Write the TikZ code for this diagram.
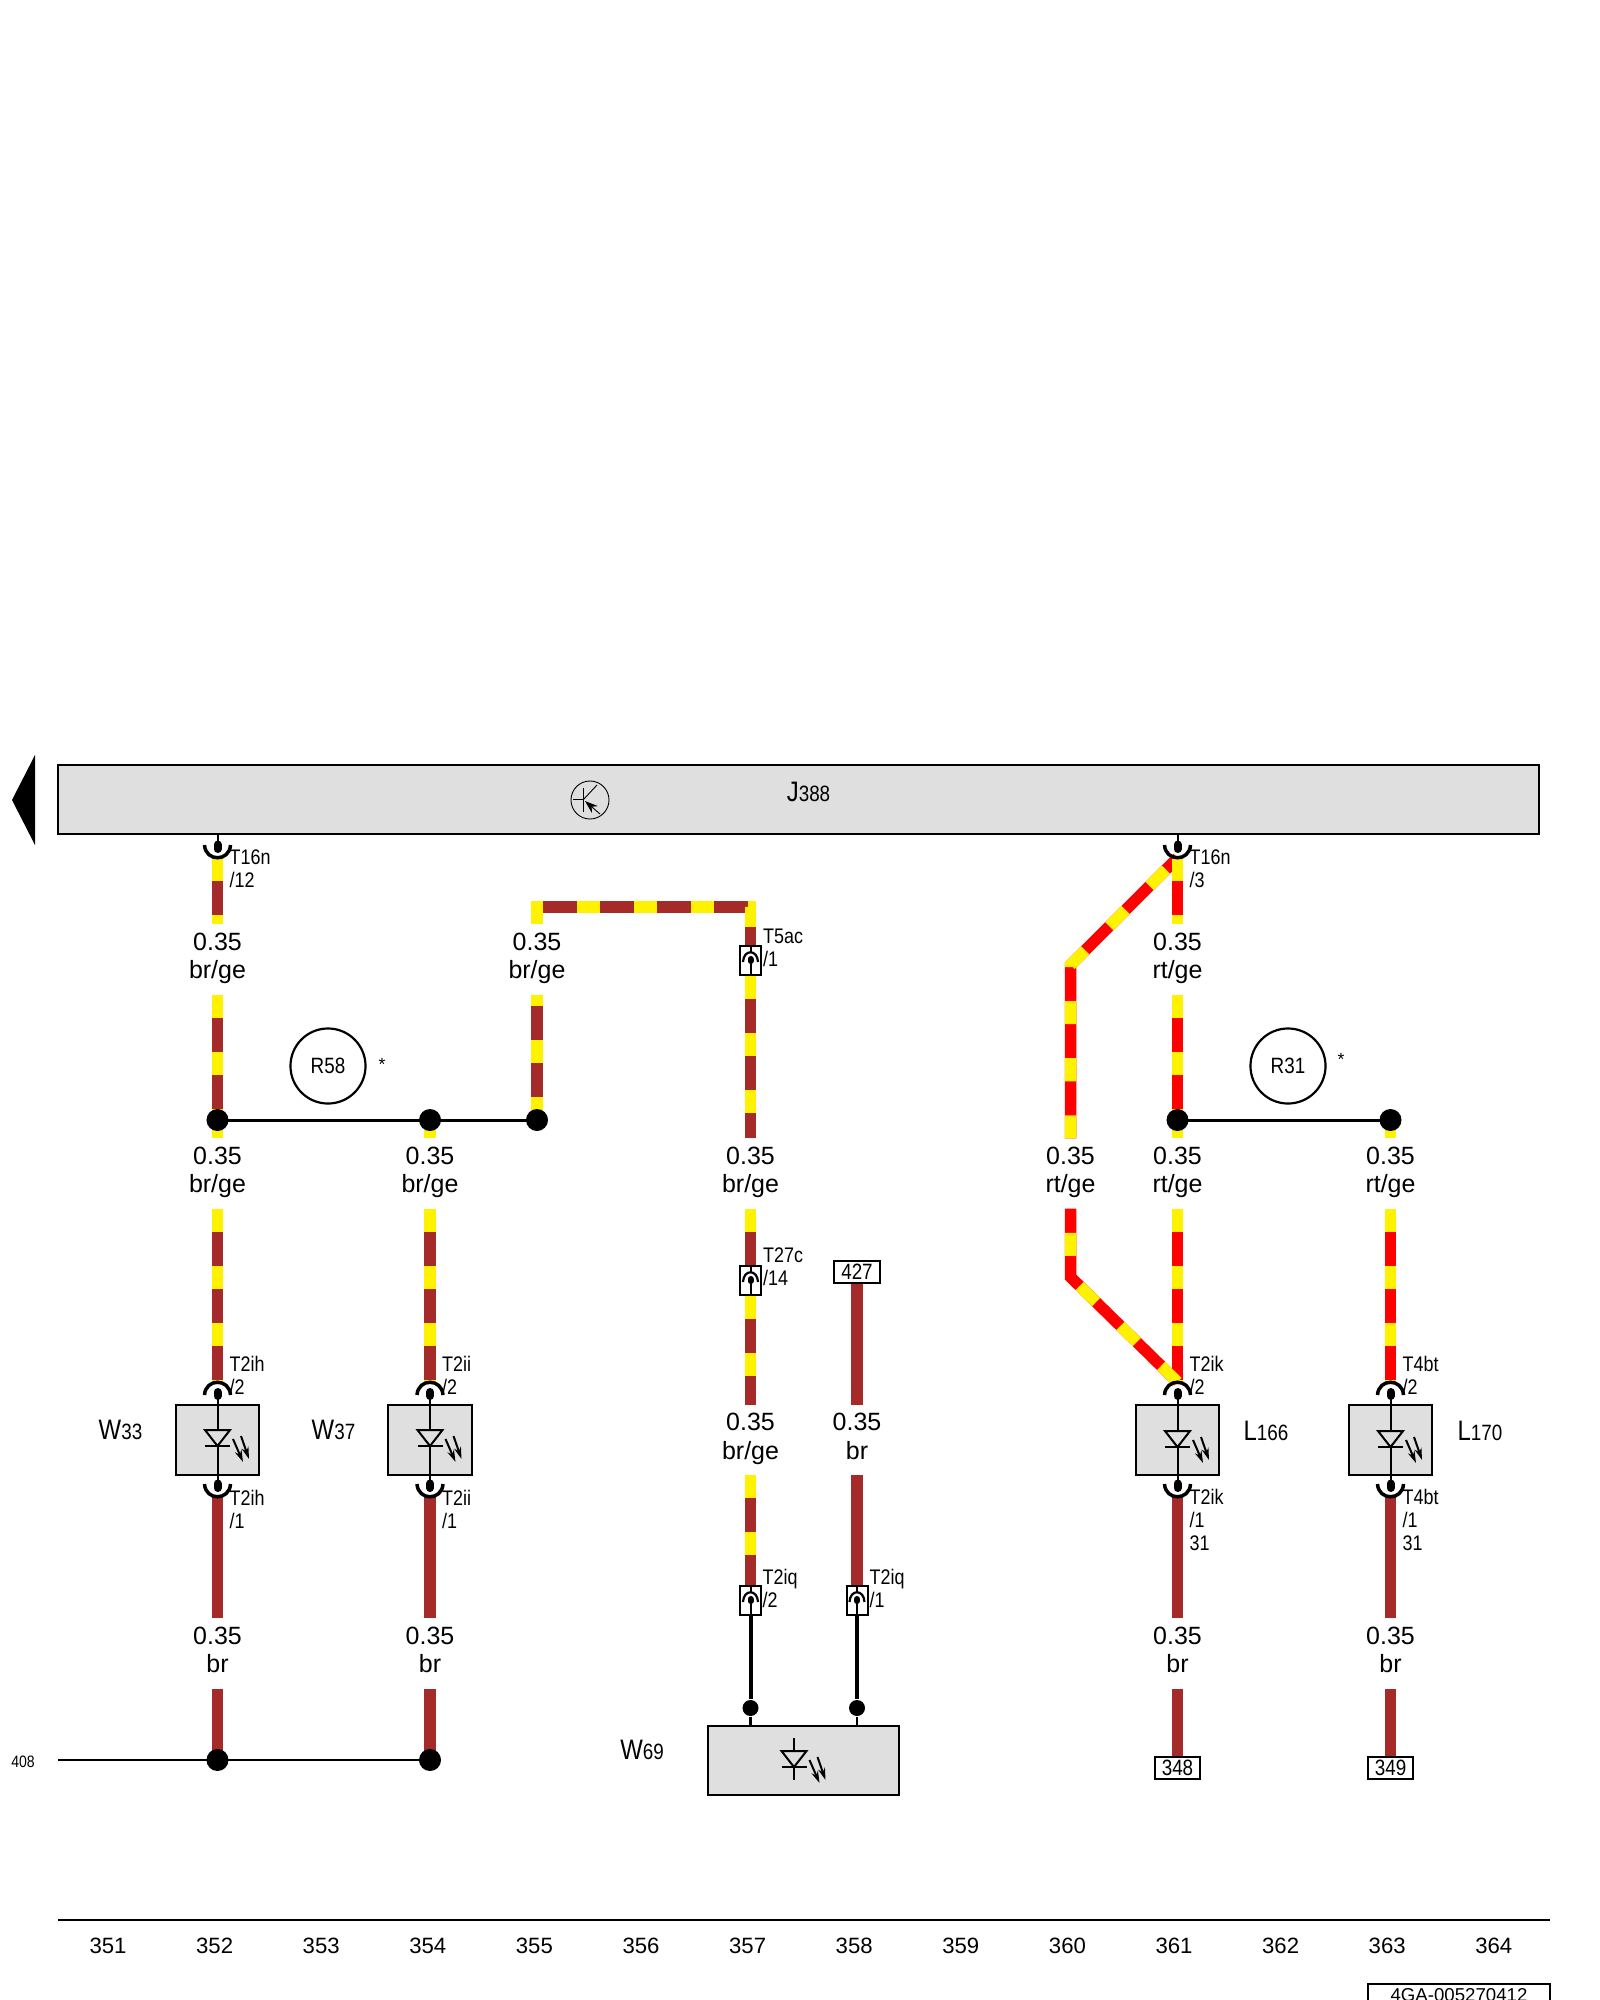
\documentclass[tikz,border=0pt]{standalone}
\usepackage{fontspec}
\setmainfont{Liberation Sans}
\newfontfamily\narrowfont[FakeStretch=0.85]{Liberation Sans}
\usepackage{tikz}
\usetikzlibrary{arrows.meta}
\definecolor{wirebrown}{HTML}{A52A2A}
\definecolor{boxgrey}{HTML}{DFDFDF}
\newcommand{\partno}[1]{{\fontsize{6.3}{7}\selectfont #1}}
\newcommand{\wiretext}[2]{#1\\#2\rule[-2.2pt]{0pt}{2.2pt}}
\tikzset{
  wirelabel/.style={align=center,inner sep=0pt,minimum height=.69cm,font=\fontsize{7.1}{8.1}\selectfont},
  pinlabel/.style={anchor=west,align=left,inner sep=0pt,font=\narrowfont\fontsize{6}{6.55}\selectfont},
  partlabel/.style={inner sep=0pt,font=\narrowfont\fontsize{8}{9}\selectfont},
  numlabel/.style={inner sep=0pt,font=\fontsize{6.3}{7}\selectfont},
  refbox/.style={draw,fill=white,line width=.02cm,minimum width=.45cm,minimum height=.22cm,inner sep=0pt,font=\narrowfont\fontsize{6.3}{7}\selectfont},
  ledbox/.style={draw,fill=boxgrey,line width=.02cm,minimum width=.83cm,minimum height=.69cm,inner sep=0pt},
  pinbox/.style={draw,fill=white,line width=.02cm,minimum width=.21cm,minimum height=.29cm,inner sep=0pt},
  junction/.style={circle,fill=black,inner sep=0pt,minimum size=.22cm},
  smalljunction/.style={circle,fill=black,inner sep=0pt,minimum size=.16cm},
  roundpart/.style={circle,draw,line width=.022cm,minimum size=.75cm,inner sep=0pt,font=\narrowfont\fontsize{6.3}{7}\selectfont},
  brwire/.style={draw=wirebrown,line width=.115cm},
  brge/.style={draw=wirebrown,line width=.115cm,postaction={draw=yellow,dash pattern=on .23cm off .34cm}},
  rtge/.style={draw=red,line width=.115cm,postaction={draw=yellow,dash pattern=on .23cm off .34cm}},
  busline/.style={draw=black,line width=.025cm},
  twistline/.style={draw=black,line width=.04cm},
  pinthin/.style={draw=black,line width=.02cm},
  thinsym/.style={draw=black,line width=.009cm},
  pinup/.pic={
    \draw[line width=.035cm] (-13,13) .. controls (-12,-4) and (12,-4) .. (13,13);
    \draw[pinthin] (0,10) -- (0,23);
    \draw[line width=.08cm,line cap=round] (0,10) -- (0,14);
  },
  pindown/.pic={
    \draw[line width=.035cm] (-13,-13) .. controls (-12,4) and (12,4) .. (13,-13);
    \draw[pinthin] (0,-10) -- (0,-23);
    \draw[line width=.08cm,line cap=round] (0,-9) -- (0,-13.5);
  },
  pininner/.pic={
    \draw[line width=.022cm] (-7.5,2) .. controls (-7,-11) and (7,-11) .. (7.5,2);
    \draw[pinthin] (0,-15) -- (0,-8);
    \draw[pinthin] (0,0) -- (0,15);
    \draw[line width=.06cm,line cap=round] (0,-1) -- (0,1);
  },
  ledsym/.pic={
    \draw[pinthin,fill=boxgrey] (-12.5,-16) -- (12.5,-16) -- (0,0) -- cycle;
    \draw[pinthin] (-12.5,0) -- (12.5,0);
    \draw[pinthin,-{Stealth[length=.12cm,width=.07cm]}] (15.5,-7) -- (25.5,16);
    \draw[pinthin,-{Stealth[length=.12cm,width=.07cm]}] (23.5,-10) -- (31.5,13);
  },
}
\begin{document}
\begin{tikzpicture}[x=.01cm,y=-.01cm]
        \useasboundingbox (0,0) rectangle (1600,2000);
        \clip (0,0) rectangle (1600,2000);

        \node[ledbox,minimum width=14.8cm,minimum height=.69cm] (j388) at (798.5,799.5) {};
        \node[partlabel] (j388lab) at (808.5,791.5) {J\partno{388}};
        \fill (35,755) -- (12,800) -- (35,845) -- cycle;

        \node[circle,thinsym,minimum size=.38cm,inner sep=0pt] (trans) at (590,800) {};
        \draw[thinsym] (583,788) -- (583,812);
        \draw[thinsym] (573,799) -- (583,799);
        \draw[thinsym] (583,800) -- (597,785);
        \draw[thinsym,{Stealth[length=.13cm,width=.09cm]}-] (585,801) -- (600,814);

        \node[wirelabel] (lab1a) at (217.5,959.5)  {\wiretext{0.35}{br/ge}};
        \node[wirelabel] (lab1b) at (217.5,1173.5) {\wiretext{0.35}{br/ge}};
        \node[wirelabel] (lab1d) at (217.5,1653.5) {\wiretext{0.35}{br}};
        \node[wirelabel] (lab2b) at (430,1173.5)   {\wiretext{0.35}{br/ge}};
        \node[wirelabel] (lab2d) at (430,1653.5)   {\wiretext{0.35}{br}};
        \node[wirelabel] (lab3a) at (537,959.5)    {\wiretext{0.35}{br/ge}};
        \node[wirelabel] (lab4b) at (750.5,1173.5) {\wiretext{0.35}{br/ge}};
        \node[wirelabel] (lab4c) at (750.5,1440)   {\wiretext{0.35}{br/ge}};
        \node[wirelabel] (lab5c) at (857,1440)     {\wiretext{0.35}{br}};
        \node[wirelabel] (lab6b) at (1070.5,1173.5) {\wiretext{0.35}{rt/ge}};
        \node[wirelabel] (lab7a) at (1177.5,959.5)  {\wiretext{0.35}{rt/ge}};
        \node[wirelabel] (lab7b) at (1177.5,1173.5) {\wiretext{0.35}{rt/ge}};
        \node[wirelabel] (lab7d) at (1177.5,1653.5) {\wiretext{0.35}{br}};
        \node[wirelabel] (lab8b) at (1390.5,1173.5) {\wiretext{0.35}{rt/ge}};
        \node[wirelabel] (lab8d) at (1390.5,1653.5) {\wiretext{0.35}{br}};

        \coordinate (dot1) at (217.5,1120);
        \coordinate (dot2) at (430,1120);
        \coordinate (dot3) at (537,1120);
        \coordinate (dot7) at (1177.5,1120);
        \coordinate (dot8) at (1390.5,1120);
        \coordinate (gnd1) at (217.5,1760);
        \coordinate (gnd2) at (430,1760);
        \coordinate (t16a) at (217.5,858);
        \coordinate (t16b) at (1177.5,858);
        \coordinate (w33t) at (217.5,1382);
        \coordinate (w37t) at (430,1382);
        \coordinate (l166t) at (1177.5,1382);
        \coordinate (l170t) at (1390.5,1382);
        \coordinate (w33b) at (217.5,1497);
        \coordinate (w37b) at (430,1497);
        \coordinate (l166b) at (1177.5,1497);
        \coordinate (l170b) at (1390.5,1497);
        \coordinate (bar1) at (537,907);
        \coordinate (bar2) at (750.5,907);
        \coordinate (bend1) at (1070.5,965);
        \coordinate (bend2) at (1070.5,1277);
        \coordinate (bus) at (58,1760);

        \node[pinbox] (t5ac) at (750.5,960)   {};
        \node[pinbox] (t27c) at (750.5,1280)  {};
        \node[pinbox] (t2iqb) at (750.5,1600) {};
        \node[pinbox] (t2iqa) at (857,1600)   {};
        \node[refbox] (ref427) at (857,1271.5)  {427};
        \node[refbox] (ref348) at (1177.5,1768) {348};
        \node[refbox] (ref349) at (1390.5,1768) {349};

        \draw (t16a) edge[brge] (lab1a.north);
        \draw (lab1a.south) edge[brge] (dot1);
        \draw (dot1) edge[brge] (lab1b.north);
        \draw (lab1b.south) edge[brge] (w33t);
        \draw (w33b) edge[brwire] (lab1d.north);
        \draw (lab1d.south) edge[brwire] (gnd1);

        \draw (dot2) edge[brge] (lab2b.north);
        \draw (lab2b.south) edge[brge] (w37t);
        \draw (w37b) edge[brwire] (lab2d.north);
        \draw (lab2d.south) edge[brwire] (gnd2);

        \draw (dot3) edge[brge] (lab3a.south);
        \draw[brge] (lab3a.north) -- (bar1) -- (bar2) -- (t5ac.north);
        \draw (t5ac.south) edge[brge] (lab4b.north);
        \draw (lab4b.south) edge[brge] (t27c.north);
        \draw (t27c.south) edge[brge] (lab4c.north);
        \draw (lab4c.south) edge[brge] (t2iqb.north);

        \draw (ref427.south) edge[brwire] (lab5c.north);
        \draw (lab5c.south) edge[brwire] (t2iqa.north);

        \draw[rtge] (lab6b.north) -- (bend1) -- (t16b);

        \draw (t16b) edge[rtge] (lab7a.north);
        \draw (lab7a.south) edge[rtge] (dot7);
        \draw (dot7) edge[rtge] (lab7b.north);
        \draw (lab7b.south) edge[rtge] (l166t);
        \draw (l166b) edge[brwire] (lab7d.north);
        \draw (lab7d.south) edge[brwire] (ref348.north);

        \draw[rtge] (l166t) -- (bend2) -- (lab6b.south);

        \draw (dot8) edge[rtge] (lab8b.north);
        \draw (lab8b.south) edge[rtge] (l170t);
        \draw (l170b) edge[brwire] (lab8d.north);
        \draw (lab8d.south) edge[brwire] (ref349.north);

        \draw[line width=.03cm] (dot1) -- (dot3);
        \draw[line width=.03cm] (dot7) -- (dot8);
        \draw[busline] (bus) -- (gnd2);

        \node[ledbox] (w33) at (217.5,1440)  {};
        \node[ledbox] (w37) at (430,1440)    {};
        \node[ledbox] (l166) at (1177.5,1440) {};
        \node[ledbox] (l170) at (1390.5,1440) {};
        \node[ledbox,minimum width=1.9cm] (w69) at (803.5,1760) {};

        \node[smalljunction] (w69a) at (750.5,1708) {};
        \node[smalljunction] (w69b) at (857,1708)   {};
        \draw[twistline] (t2iqb.south) -- (w69a);
        \draw[twistline] (t2iqa.south) -- (w69b);
        \draw[line width=.028cm] (w69a) -- (w69a |- w69.north);
        \draw[line width=.028cm] (w69b) -- (w69b |- w69.north);

        \node[junction] (n1) at (dot1) {};
        \node[junction] (n2) at (dot2) {};
        \node[junction] (n3) at (dot3) {};
        \node[junction] (n7) at (dot7) {};
        \node[junction] (n8) at (dot8) {};
        \node[junction] (g1) at (gnd1) {};
        \node[junction] (g2) at (gnd2) {};

        \pic at (t5ac) {pininner};
        \pic at (t27c) {pininner};
        \pic at (t2iqb) {pininner};
        \pic at (t2iqa) {pininner};

        \draw[pinthin] (w33.north) -- (w33.south);
        \draw[pinthin] (w37.north) -- (w37.south);
        \draw[pinthin] (l166.north) -- (l166.south);
        \draw[pinthin] (l170.north) -- (l170.south);
        \draw[pinthin] (794,1738) -- (794,1780);

        \pic at (217.5,1446)  {ledsym};
        \pic at (430,1446)    {ledsym};
        \pic at (1177.5,1447) {ledsym};
        \pic at (1390.5,1447) {ledsym};
        \pic at (794,1767)    {ledsym};

        \pic at (t16a) {pindown};
        \pic at (t16b) {pindown};
        \pic at (w33t) {pinup};
        \pic at (w37t) {pinup};
        \pic at (l166t) {pinup};
        \pic at (l170t) {pinup};
        \pic at (w33b) {pindown};
        \pic at (w37b) {pindown};
        \pic at (l166b) {pindown};
        \pic at (l170b) {pindown};

        \node[pinlabel] (p1) at (229,868.5)  {T16n\\/12};
        \node[pinlabel] (p2) at (1189,868.5) {T16n\\/3};
        \node[pinlabel] (p3) at (762.5,948)  {T5ac\\/1};
        \node[pinlabel] (p4) at (762.5,1267) {T27c\\/14};
        \node[pinlabel] (p5) at (762,1588)   {T2iq\\/2};
        \node[pinlabel] (p6) at (869,1588)   {T2iq\\/1};
        \node[pinlabel] (p7) at (229,1375)   {T2ih\\/2};
        \node[pinlabel] (p8) at (229,1509)   {T2ih\\/1};
        \node[pinlabel] (p9) at (441.5,1375) {T2ii\\/2};
        \node[pinlabel] (p10) at (441.5,1509) {T2ii\\/1};
        \node[pinlabel] (p11) at (1189,1375) {T2ik\\/2};
        \node[pinlabel] (p12) at (1189,1520) {T2ik\\/1\\31};
        \node[pinlabel] (p13) at (1402,1375) {T4bt\\/2};
        \node[pinlabel] (p14) at (1402,1520) {T4bt\\/1\\31};

        \node[partlabel] (w33lab) at (120.5,1430) {W\partno{33}};
        \node[partlabel] (w37lab) at (333.5,1430) {W\partno{37}};
        \node[partlabel] (w69lab) at (642,1750)   {W\partno{69}};
        \node[partlabel] (l166lab) at (1266,1431) {L\partno{166}};
        \node[partlabel] (l170lab) at (1480,1431) {L\partno{170}};

        \node[roundpart] (r58) at (328,1066)  {R58};
        \node[roundpart] (r31) at (1288,1066) {R31};
        \node[inner sep=0pt,font=\fontsize{5}{6}\selectfont] (star1) at (382,1064) {*};
        \node[inner sep=0pt,font=\fontsize{5}{6}\selectfont] (star2) at (1341,1059) {*};

        \node[inner sep=0pt,font=\narrowfont\fontsize{4.7}{6}\selectfont] (ref408) at (23,1762) {408};

        \coordinate (rule1) at (58,1920);
        \coordinate (rule2) at (1550,1920);
        \draw[line width=.025cm] (rule1) -- (rule2);

        \node[numlabel] (n351) at (108,1946)    {351};
        \node[numlabel] (n352) at (214.6,1946)  {352};
        \node[numlabel] (n353) at (321.2,1946)  {353};
        \node[numlabel] (n354) at (427.8,1946)  {354};
        \node[numlabel] (n355) at (534.4,1946)  {355};
        \node[numlabel] (n356) at (641,1946)    {356};
        \node[numlabel] (n357) at (747.6,1946)  {357};
        \node[numlabel] (n358) at (854.2,1946)  {358};
        \node[numlabel] (n359) at (960.8,1946)  {359};
        \node[numlabel] (n360) at (1067.4,1946) {360};
        \node[numlabel] (n361) at (1174,1946)   {361};
        \node[numlabel] (n362) at (1280.6,1946) {362};
        \node[numlabel] (n363) at (1387.2,1946) {363};
        \node[numlabel] (n364) at (1493.8,1946) {364};

        \draw[line width=.025cm] (1368,1984) rectangle (1550,2030);
        \node[inner sep=0pt,font=\fontsize{5.3}{6}\selectfont] (docno) at (1459,1995) {4GA-005270412};
      \end{tikzpicture}
\end{document}
